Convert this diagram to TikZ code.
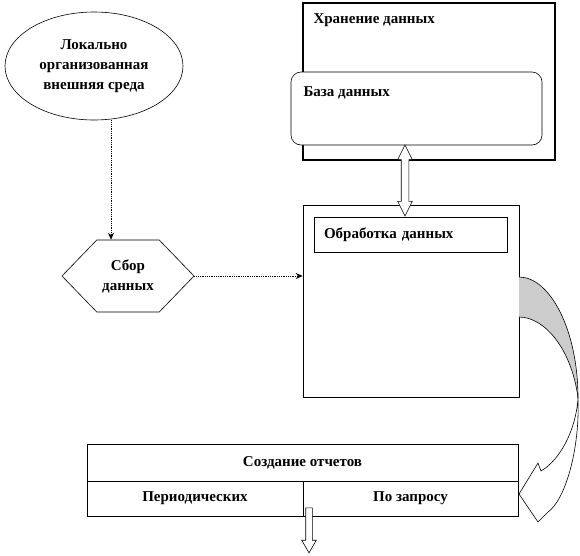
\documentclass[tikz,border=0pt]{standalone}
\usepackage{fontspec}
\setmainfont{Liberation Serif}
\usetikzlibrary{arrows.meta, calc, shapes.geometric, shapes.symbols, shapes.arrows}

\tikzset{
  box/.style={draw, line width=0.6pt},
  link/.style={densely dotted, line width=0.8pt, -{Stealth[length=7pt, width=6pt]}}
}

\begin{document}
\begin{tikzpicture}[x=1pt, y=-1pt, font=\fontsize{15}{20}\selectfont\bfseries]
  \useasboundingbox (0,0) rectangle (580,555);

  % Outer environment
  \node[box, ellipse, minimum width=178pt, minimum height=108pt, inner sep=0pt, align=center] (env) at (94,66) {Локально\\организованная\\внешняя среда};

  % Data collection
  \node[box, signal, signal to=west and east, signal pointer angle=92, minimum width=132pt, minimum height=72pt, inner sep=0pt, align=center] (collect) at (128,276) {Сбор\\данных};

  % Storage with data base
  \node[draw, line width=2pt, minimum width=252pt, minimum height=157pt] (store) at (429,81.5) {};
  \node[anchor=west] (storetext) at (310,20) {Хранение данных};
  \node[box, fill=white, rounded corners=10pt, minimum width=251pt, minimum height=73pt] (db) at (416.5,108.5) {};
  \node[anchor=west] (dbtext) at (300,93) {База данных};

  % Processing
  \node[box, minimum width=216pt, minimum height=192pt] (proc) at (411,301) {};
  \node[box, minimum width=193pt, minimum height=35pt, text width=173pt, align=left] (proctitle) at (410.5,234.5) {Обработка данных};

  % Double arrow between base and processing
  \node[box, fill=white, double arrow, rotate=90, minimum height=71pt, minimum width=14pt, inner sep=3.5pt, double arrow head extend=3.5pt, double arrow tip angle=53] (dbarrow) at (405,180.5) {};

  % Reports
  \node[box, minimum width=431pt, minimum height=37pt] (rep) at (302.5,462.5) {Создание отчетов};
  \node[box, minimum width=216pt, minimum height=35pt] (per) at (195,498.5) {Периодических};
  \node[box, minimum width=215pt, minimum height=35pt] (req) at (410.5,498.5) {По запросу};

  \node[box, fill=white, single arrow, rotate=-90, minimum height=45pt, minimum width=14pt, inner sep=3pt, single arrow head extend=4pt, single arrow tip angle=60] (out) at (309,527.5) {};

  % Connectors
  \draw[link] ([xshift=17pt]env.south) -- ([xshift=17pt]env.south |- collect.north);
  \draw[link] (collect.east) -- (collect.east -| proc.west);

  % Curved arrow from processing to reports
  \coordinate (A) at (519,277);
  \coordinate (B) at (578,398);
  \coordinate (C) at (519,317);
  \fill[gray!40] (A) .. controls (550,277) and (578,330) .. (B)
    .. controls (572,350) and (545,317) .. (C) -- cycle;
  \draw[line width=0.6pt] (A) .. controls (550,277) and (578,330) .. (B);
  \draw[line width=0.6pt] (C) .. controls (545,317) and (572,350) .. (B);
  \draw[line width=0.6pt, fill=white] (B) .. controls (580,450) and (565,500) .. (548,512)
    -- (538,522) -- (519,494) -- (538,463) -- (541,471)
    .. controls (560,460) and (576,430) .. (B);
\end{tikzpicture}
\end{document}
